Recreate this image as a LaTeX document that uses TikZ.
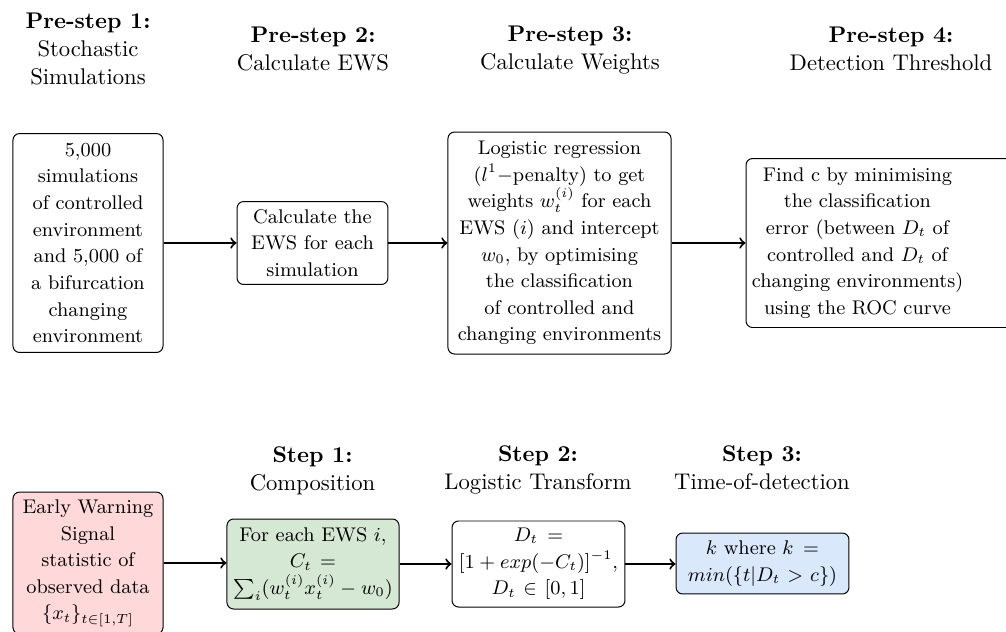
\documentclass[tikz,border=0pt]{standalone}
\usepackage{amsmath}
\definecolor{pinkfill}{RGB}{255,217,217}
\definecolor{greenfill}{RGB}{213,232,212}
\definecolor{bluefill}{RGB}{218,232,252}
\tikzset{
  hdr/.style={align=center, font=\fontsize{10.3}{12.7}\selectfont, inner sep=0pt},
  box/.style={draw, rounded corners=3pt, align=center, inner xsep=1pt, inner ysep=3pt,
    font=\fontsize{9}{12.1}\selectfont, line width=0.45pt},
  conn/.style={->, line width=0.9pt},
}
\begin{document}
\begin{tikzpicture}[x=0.4545pt,y=-0.4545pt]
\useasboundingbox (0,0) rectangle (1006,631);
\clip (0,0) rectangle (1006,631);
% headers top
\node[hdr] (h1) at (88,49) {\textbf{Pre-step 1:}\\Stochastic\\Simulations};
\node[hdr] (h2) at (313,49) {\textbf{Pre-step 2:}\\Calculate EWS};
\node[hdr] (h3) at (570,50) {\textbf{Pre-step 3:}\\Calculate Weights};
\node[hdr] (h4) at (891,49) {\textbf{Pre-step 4:}\\Detection Threshold};
% top boxes
\node[box, text width=66.2pt, minimum height=99.5pt] (b1) at (88,243)
  {5,000\\simulations\\of controlled\\environment\\and 5,000 of\\a bifurcation\\changing\\environment};
\node[box, text width=66.6pt, minimum height=37.7pt] (b2) at (312.5,243)
  {Calculate the\\EWS for each\\simulation};
\node[box, text width=99.4pt, minimum height=100.9pt] (b3) at (559.5,243)
  {Logistic regression\\($l^1-$penalty) to get\\weights $w_t^{(i)}$ for each\\EWS $(i)$ and intercept\\$w_0$, by optimising\\the classification\\of controlled and\\changing environments};
\node[box, minimum width=122.7pt, minimum height=76.8pt] (b4) at (881,243) {};
\node[align=center, inner sep=0pt, text width=100.4pt, font=\fontsize{9}{12.1}\selectfont] (b4t) at (857.5,243)
  {Find c by minimising\\the classification\\error (between $D_t$ of\\controlled and $D_t$ of\\changing environments)\\using the ROC curve};
\draw[conn] (b1.east) -- (b1.east -| b2.west);
\draw[conn] (b2.east) -- (b2.east -| b3.west);
\draw[conn] (b3.east) -- (b3.east -| b4.west);
% headers bottom
\node[hdr] (s1) at (312.5,471) {\textbf{Step 1:}\\Composition};
\node[hdr] (s2) at (538,470) {\textbf{Step 2:}\\Logistic Transform};
\node[hdr] (s3) at (762,468) {\textbf{Step 3:}\\Time-of-detection};
% bottom boxes
\node[box, fill=pinkfill, text width=66.2pt, minimum height=64.5pt] (r1) at (88,563)
  {Early Warning\\Signal\\statistic of\\observed data\\$\{x_t\}_{t\in[1,T]}$};
\node[box, fill=greenfill, text width=76.2pt, minimum height=40.9pt] (g2) at (313,564)
  {For each EWS $i$,\\$C_t\hspace{3.8pt}{=}$\\$\sum_i(w_t^{(i)}x_t^{(i)}-w_0)$};
\node[box, text width=76.6pt, minimum height=39.1pt] (w3) at (538.5,564)
  {$D_t\hspace{4.2pt}{=}$\\$[1+exp(-C_t)]^{-1}$,\\$D_t\hspace{3.5pt}{\in}\hspace{3.5pt}[0,1]$};
\node[box, fill=bluefill, text width=76.6pt, minimum height=27.7pt] (l4) at (762.5,563.5)
  {$k$ where $k=$\\$min(\{t|D_t>c\})$};
\draw[conn] (r1.east) -- (r1.east -| g2.west);
\draw[conn] (g2.east) -- (g2.east -| w3.west);
\draw[conn] (w3.east) -- (w3.east -| l4.west);
\end{tikzpicture}
\end{document}
